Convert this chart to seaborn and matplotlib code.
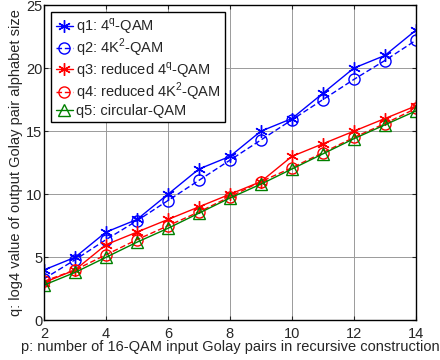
import numpy as np
import pandas as pd
import matplotlib
matplotlib.use("Agg")
import matplotlib.pyplot as plt
import seaborn as sns

p = [2, 3, 4, 5, 6, 7, 8, 9, 10, 11, 12, 13, 14]
q1 = [4.0, 5.0, 7.0, 8.0, 10.0, 12.0, 13.0, 15.0, 16.0, 18.0, 20.0, 21.0, 23.0]
q2 = [3.3, 4.8, 6.4, 7.9, 9.5, 11.1, 12.7, 14.3, 15.9, 17.5, 19.1, 20.6, 22.2]
q3 = [3.0, 4.0, 6.0, 7.0, 8.0, 9.0, 10.0, 11.0, 13.0, 14.0, 15.0, 16.0, 17.0]
q4 = [3.1, 4.0, 5.2, 6.4, 7.5, 8.6, 9.8, 11.0, 12.1, 13.3, 14.5, 15.6, 16.8]
q5 = [2.8, 3.8, 5.0, 6.2, 7.3, 8.5, 9.7, 10.8, 12.0, 13.2, 14.4, 15.5, 16.6]

labels = ["q1: 4$^{\\mathregular{q}}$-QAM", "q2: 4K$^{\\mathregular{2}}$-QAM",
          "q3: reduced 4$^{\\mathregular{q}}$-QAM", "q4: reduced 4K$^{\\mathregular{2}}$-QAM",
          "q5: circular-QAM"]

sns.set_style("ticks")
plt.rcParams['font.family'] = ['Liberation Sans', 'DejaVu Sans']
plt.rcParams['font.size'] = 10.5
plt.rcParams['xtick.direction'] = 'in'
plt.rcParams['ytick.direction'] = 'in'

fig = plt.figure(figsize=(4.4, 3.6), dpi=100)
ax = fig.add_axes([0.1, 0.11, 0.845, 0.876])

star = (6, 2, 0)
styles = [
    (q1, 'blue', star, '-', 'blue', 9),
    (q2, 'blue', 'o', '--', 'none', 8),
    (q3, 'red', star, '-', 'red', 9),
    (q4, 'red', 'o', '--', 'none', 8),
    (q5, 'green', '^', '-', 'none', 8),
]
for (vals, col, mk, ls, fc, ms), lab in zip(styles, labels):
    sns.lineplot(x=p, y=vals, ax=ax, color=col, marker=mk, linestyle=ls,
                 markerfacecolor=fc, markeredgecolor=col, markersize=ms,
                 markeredgewidth=1, linewidth=1, label=lab)
    ax.lines[-1].set_linestyle(ls)
    if ls == '--':
        ax.lines[-1].set_dashes([4, 2])

ax.set_xlim(2, 14)
ax.set_ylim(0, 25)
ax.set_xticks([2, 4, 6, 8, 10, 12, 14])
ax.set_yticks([0, 5, 10, 15, 20, 25])
ax.grid(True, color='#9a9a9a', linewidth=0.7)
ax.tick_params(top=True, right=True, length=3, width=0.8, pad=1, labelsize=10.5)
ax.tick_params(axis='x', pad=5)
for s in ax.spines.values():
    s.set_linewidth(1)
    s.set_color('black')

ax.set_xlabel("p: number of 16-QAM input Golay pairs in recursive construction", labelpad=-1)
ax.set_ylabel("q: log4 value of output Golay pair alphabet size", labelpad=2)

leg = ax.legend(loc='upper left', fontsize=10.5, handlelength=1.2, handletextpad=0.2,
                borderpad=0.3, labelspacing=0.05, fancybox=False, framealpha=1,
                borderaxespad=0.5)
leg.get_frame().set_edgecolor('black')
leg.get_frame().set_linewidth(1)

fig.savefig("out.png", dpi=100)
